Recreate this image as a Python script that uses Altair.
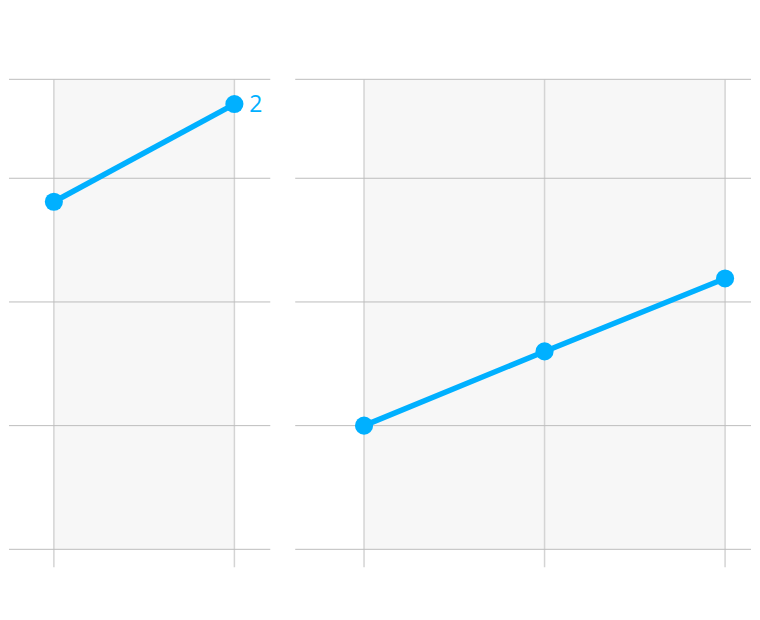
import altair as alt
import pandas as pd

# data
left_x = [0, 1]
left_y = [28.1, 36.0]
right_x = [0, 1, 2]
right_y = [10.0, 16.0, 21.9]
grid_y = [0, 10, 20, 30, 38]
end_label = "2"

BLUE = "#00b0ff"
GRID_H = "#bdbdbd"
GRID_V = "#d4d4d4"
BG = "#f7f7f7"

YDOM = [-1.45, 37.98]


def panel(xs, ys, xdom, width, label=None):
    xsc = alt.Scale(domain=xdom, nice=False, zero=False)
    ysc = alt.Scale(domain=YDOM, nice=False, zero=False)
    df = pd.DataFrame({"x": xs, "y": ys})
    bg = alt.Chart(pd.DataFrame({"x": [xs[0]], "x2": [xs[-1]], "y": [0], "y2": [YDOM[1]]})).mark_rect(
        color=BG
    ).encode(
        x=alt.X("x:Q", scale=xsc, axis=None),
        x2="x2",
        y=alt.Y("y:Q", scale=ysc, axis=None),
        y2="y2",
    )
    vr = alt.Chart(pd.DataFrame({"x": xs})).mark_rule(color=GRID_V, strokeWidth=1.5).encode(
        x=alt.X("x:Q", scale=xsc, axis=None)
    )
    hr = alt.Chart(pd.DataFrame({"y": grid_y})).mark_rule(color=GRID_H, strokeWidth=1).encode(
        y=alt.Y("y:Q", scale=ysc, axis=None)
    )
    base = alt.Chart(df).encode(
        x=alt.X("x:Q", scale=xsc, axis=None),
        y=alt.Y("y:Q", scale=ysc, axis=None),
    )
    line = base.mark_line(color=BLUE, strokeWidth=5.5)
    pts = base.mark_circle(color=BLUE, size=330, opacity=1)
    layers = [bg, vr, hr, line, pts]
    if label is not None:
        ldf = pd.DataFrame({"x": [xs[-1]], "y": [ys[-1]], "t": [label]})
        txt = alt.Chart(ldf).mark_text(
            color=BLUE, fontSize=23, font="Open Sans", align="left", baseline="middle", dx=15, dy=1
        ).encode(
            x=alt.X("x:Q", scale=xsc, axis=None),
            y=alt.Y("y:Q", scale=ysc, axis=None),
            text="t:N",
        )
        layers.append(txt)
    return alt.layer(*layers).properties(width=width, height=489)


left = panel(left_x, left_y, [-45 / 181, 1 + 36 / 181], 262, end_label)
right = panel(right_x, right_y, [-69 / 181, (457 - 69) / 181], 457)

chart = alt.hconcat(left, right, spacing=23).properties(
    padding={"left": 0, "top": 70, "right": 0, "bottom": 0},
    background="white",
).configure_view(stroke=None, strokeWidth=0)

chart.save("out.html", embed_options={"renderer": "svg", "actions": False})
